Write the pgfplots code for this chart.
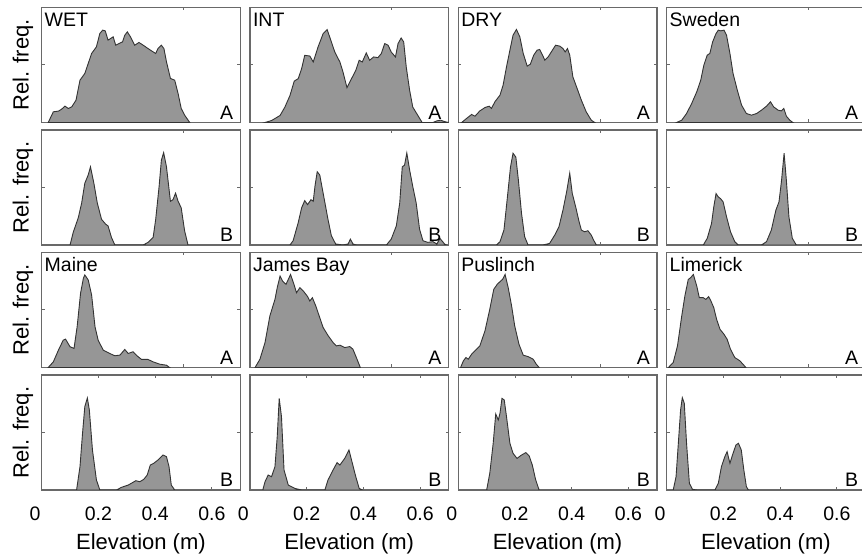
\documentclass[border=0pt]{standalone}
\usepackage{fontspec}
\setmainfont{Liberation Sans}
\usepackage{pgfplots}
\pgfplotsset{compat=1.18}
\definecolor{fillg}{RGB}{150,150,150}
\definecolor{frameg}{RGB}{105,105,105}
\newcommand{\lab}{\fontsize{9.75}{11}\selectfont}
\newcommand{\biglab}{\fontsize{11}{13}\selectfont}
\pgfplotsset{
  panel/.style={scale only axis, width=99.25pt, height=57.5pt,
    xmin=0, xmax=0.7, ymin=0, ymax=1, ytick={0.5}, yticklabels={},
    tick align=inside, major tick length=1.5pt,
    axis line style={draw=frameg, line width=0.7pt},
    every tick/.style={draw=frameg, line width=0.5pt},
    anchor=north west},
  upper/.style={xtick={0.5}, xticklabels={}},
  lower/.style={xtick={0,0.2,0.4,0.6},
    xticklabels={{\makebox[0pt][r]{0\kern0.6pt}},0.2,0.4,0.6},
    xticklabel style={font=\lab, yshift=-5pt}},
  areaplot/.style={fill=fillg, draw=black!80, line width=0.45pt},
}
\newcommand{\pan}[6]{%
\begin{axis}[panel,#3,at={(#1,#2)}]
\addplot[areaplot] coordinates {#4} \closedcycle;
\node[anchor=base west,font=\lab,inner sep=0pt,xshift=1.3pt,yshift=-9.3pt] at (rel axis cs:0,1) {#5};
\node[anchor=base east,font=\lab,inner sep=0pt,xshift=-3.3pt,yshift=1.5pt] at (rel axis cs:1,0) {#6};
\end{axis}}
\begin{document}
\begin{tikzpicture}
% ---------- column 1 ----------
\pan{20.85pt}{-3.75pt}{upper}{(0.023,0)(0.041,0.093)(0.059,0.099)(0.070,0.115)(0.082,0.142)(0.094,0.122)(0.106,0.136)(0.121,0.194)(0.135,0.368)(0.152,0.426)(0.164,0.513)(0.176,0.6)(0.193,0.658)(0.205,0.774)(0.215,0.803)(0.224,0.797)(0.234,0.716)(0.243,0.730)(0.252,0.745)(0.261,0.672)(0.273,0.687)(0.285,0.701)(0.293,0.759)(0.302,0.788)(0.313,0.745)(0.328,0.672)(0.343,0.696)(0.358,0.672)(0.375,0.643)(0.393,0.614)(0.402,0.6)(0.410,0.643)(0.422,0.672)(0.431,0.643)(0.440,0.528)(0.454,0.383)(0.469,0.368)(0.481,0.252)(0.492,0.122)(0.504,0.064)(0.522,0)}{WET}{A}
\pan{20.85pt}{-65pt}{upper}{(0.100,0)(0.111,0.109)(0.129,0.237)(0.141,0.366)(0.152,0.537)(0.164,0.609)(0.172,0.68)(0.184,0.537)(0.196,0.366)(0.211,0.223)(0.226,0.18)(0.234,0.166)(0.246,0.066)(0.258,0)(0.358,0)(0.375,0.023)(0.393,0.066)(0.402,0.223)(0.414,0.509)(0.422,0.737)(0.430,0.803)(0.440,0.68)(0.454,0.38)(0.463,0.394)(0.472,0.451)(0.481,0.38)(0.492,0.323)(0.504,0.123)(0.516,0)}{}{B}
\pan{20.85pt}{-126.25pt}{upper}{(0.023,0)(0.041,0.049)(0.059,0.151)(0.076,0.238)(0.084,0.247)(0.1,0.18)(0.114,0.166)(0.125,0.355)(0.137,0.645)(0.147,0.776)(0.152,0.805)(0.164,0.762)(0.176,0.631)(0.188,0.355)(0.199,0.238)(0.217,0.151)(0.240,0.122)(0.258,0.102)(0.276,0.108)(0.293,0.157)(0.305,0.122)(0.322,0.137)(0.336,0.102)(0.352,0.070)(0.375,0.07)(0.393,0.049)(0.416,0.029)(0.440,0.02)(0.451,0)}{Maine}{A}
\pan{20.85pt}{-187.5pt}{lower}{(0.123,0)(0.135,0.203)(0.144,0.493)(0.152,0.725)(0.161,0.80)(0.168,0.696)(0.179,0.348)(0.193,0.087)(0.205,0)(0.264,0)(0.281,0.023)(0.305,0.043)(0.332,0.081)(0.346,0.072)(0.360,0.093)(0.372,0.13)(0.383,0.217)(0.395,0.232)(0.410,0.261)(0.428,0.304)(0.440,0.29)(0.449,0.203)(0.457,0.043)(0.469,0)}{}{B}
% ---------- column 2 ----------
\pan{125pt}{-3.75pt}{upper}{(0.053,0)(0.076,0.017)(0.106,0.061)(0.123,0.134)(0.141,0.235)(0.156,0.36)(0.170,0.381)(0.182,0.468)(0.193,0.584)(0.211,0.578)(0.223,0.526)(0.240,0.657)(0.258,0.773)(0.272,0.808)(0.281,0.744)(0.299,0.613)(0.317,0.526)(0.328,0.439)(0.342,0.302)(0.358,0.381)(0.373,0.453)(0.385,0.541)(0.396,0.526)(0.410,0.605)(0.422,0.541)(0.436,0.57)(0.451,0.564)(0.463,0.599)(0.475,0.686)(0.487,0.672)(0.498,0.613)(0.513,0.57)(0.522,0.686)(0.533,0.735)(0.542,0.70)(0.551,0.483)(0.563,0.279)(0.574,0.134)(0.592,0.061)(0.607,0)(0.645,0)(0.660,0.015)(0.672,0.02)(0.686,0.008)(0.70,0)}{INT}{A}
\pan{125pt}{-65pt}{upper}{(0.141,0)(0.152,0.037)(0.170,0.194)(0.182,0.323)(0.193,0.386)(0.203,0.351)(0.215,0.394)(0.223,0.38)(0.229,0.509)(0.237,0.637)(0.246,0.609)(0.260,0.423)(0.275,0.223)(0.287,0.08)(0.302,0.009)(0.328,0)(0.346,0.009)(0.354,0.051)(0.363,0.009)(0.375,0)(0.481,0)(0.498,0.051)(0.516,0.166)(0.528,0.366)(0.537,0.68)(0.545,0.694)(0.553,0.80)(0.563,0.651)(0.574,0.509)(0.586,0.366)(0.598,0.137)(0.610,0.037)(0.627,0.023)(0.645,0.029)(0.659,0.009)(0.670,0.057)(0.686,0.009)(0.692,0)}{}{B}
\pan{125pt}{-126.25pt}{upper}{(0.018,0)(0.035,0.072)(0.053,0.217)(0.070,0.448)(0.088,0.592)(0.096,0.694)(0.106,0.795)(0.115,0.751)(0.127,0.723)(0.135,0.766)(0.143,0.809)(0.155,0.723)(0.164,0.65)(0.176,0.694)(0.188,0.665)(0.202,0.621)(0.211,0.578)(0.220,0.607)(0.232,0.535)(0.244,0.448)(0.258,0.347)(0.276,0.275)(0.293,0.217)(0.305,0.188)(0.317,0.194)(0.334,0.173)(0.352,0.182)(0.363,0.159)(0.375,0.087)(0.389,0)}{James Bay}{A}
\pan{125pt}{-187.5pt}{lower}{(0.045,0)(0.053,0.072)(0.064,0.13)(0.076,0.116)(0.088,0.203)(0.096,0.464)(0.103,0.797)(0.111,0.638)(0.120,0.174)(0.135,0.043)(0.158,0.014)(0.182,0)(0.264,0)(0.275,0.087)(0.293,0.174)(0.307,0.238)(0.317,0.217)(0.334,0.275)(0.349,0.348)(0.361,0.232)(0.373,0.116)(0.385,0.014)(0.396,0)}{}{B}
% ---------- column 3 ----------
\pan{229.15pt}{-3.75pt}{upper}{(0.012,0)(0.029,0.035)(0.047,0.07)(0.059,0.055)(0.076,0.101)(0.094,0.13)(0.109,0.142)(0.117,0.122)(0.129,0.18)(0.147,0.238)(0.158,0.325)(0.170,0.484)(0.182,0.629)(0.193,0.759)(0.205,0.809)(0.217,0.745)(0.229,0.6)(0.243,0.49)(0.254,0.507)(0.266,0.586)(0.278,0.629)(0.287,0.635)(0.297,0.586)(0.305,0.542)(0.317,0.571)(0.328,0.614)(0.343,0.672)(0.358,0.664)(0.369,0.643)(0.377,0.614)(0.385,0.643)(0.393,0.586)(0.404,0.397)(0.419,0.296)(0.434,0.194)(0.451,0.093)(0.469,0.02)(0.481,0)}{DRY}{A}
\pan{229.15pt}{-65pt}{upper}{(0.135,0)(0.147,0.029)(0.161,0.130)(0.172,0.389)(0.184,0.677)(0.193,0.798)(0.203,0.764)(0.212,0.562)(0.223,0.274)(0.234,0.072)(0.246,0)(0.299,0)(0.322,0.014)(0.340,0.086)(0.355,0.159)(0.369,0.303)(0.383,0.476)(0.393,0.625)(0.402,0.447)(0.414,0.331)(0.426,0.202)(0.434,0.13)(0.445,0.115)(0.457,0.124)(0.469,0.086)(0.477,0.043)(0.487,0)}{}{B}
\pan{229.15pt}{-126.25pt}{upper}{(0.008,0)(0.018,0.058)(0.027,0.087)(0.035,0.072)(0.047,0.116)(0.064,0.159)(0.076,0.188)(0.094,0.318)(0.111,0.506)(0.125,0.679)(0.137,0.723)(0.149,0.751)(0.156,0.766)(0.165,0.809)(0.176,0.694)(0.188,0.535)(0.199,0.361)(0.214,0.202)(0.229,0.107)(0.246,0.095)(0.264,0.072)(0.275,0.029)(0.285,0)}{Puslinch}{A}
\pan{229.15pt}{-187.5pt}{lower}{(0.1,0)(0.111,0.145)(0.123,0.406)(0.132,0.661)(0.141,0.609)(0.147,0.667)(0.154,0.797)(0.162,0.783)(0.170,0.638)(0.182,0.406)(0.193,0.319)(0.207,0.275)(0.223,0.304)(0.238,0.325)(0.250,0.296)(0.261,0.217)(0.273,0.087)(0.285,0)}{}{B}
% ---------- column 4 ----------
\pan{333.35pt}{-3.75pt}{upper}{(0.035,0)(0.053,0.02)(0.070,0.078)(0.088,0.165)(0.106,0.267)(0.120,0.368)(0.131,0.499)(0.143,0.586)(0.152,0.6)(0.162,0.701)(0.174,0.774)(0.182,0.803)(0.191,0.797)(0.202,0.803)(0.211,0.759)(0.223,0.6)(0.234,0.426)(0.249,0.281)(0.264,0.151)(0.281,0.078)(0.299,0.064)(0.317,0.078)(0.334,0.107)(0.352,0.142)(0.366,0.180)(0.377,0.136)(0.393,0.107)(0.404,0.101)(0.413,0.122)(0.422,0.055)(0.434,0.02)(0.445,0)}{Sweden}{A}
\pan{333.35pt}{-65pt}{upper}{(0.129,0)(0.143,0.058)(0.158,0.187)(0.166,0.331)(0.174,0.447)(0.182,0.418)(0.190,0.403)(0.199,0.375)(0.211,0.245)(0.225,0.115)(0.240,0.029)(0.252,0)(0.334,0)(0.352,0.029)(0.369,0.13)(0.385,0.303)(0.396,0.375)(0.405,0.562)(0.414,0.798)(0.422,0.562)(0.431,0.245)(0.443,0.058)(0.457,0)}{}{B}
\pan{333.35pt}{-126.25pt}{upper}{(0.006,0)(0.023,0.043)(0.038,0.188)(0.053,0.448)(0.064,0.621)(0.076,0.766)(0.084,0.78)(0.094,0.809)(0.106,0.708)(0.115,0.607)(0.129,0.607)(0.138,0.592)(0.148,0.616)(0.156,0.578)(0.166,0.52)(0.176,0.419)(0.188,0.332)(0.202,0.289)(0.213,0.246)(0.225,0.159)(0.240,0.087)(0.258,0.058)(0.272,0.02)(0.279,0)}{Limerick}{A}
\pan{333.35pt}{-187.5pt}{lower}{(0.023,0)(0.033,0.116)(0.041,0.406)(0.049,0.696)(0.055,0.803)(0.062,0.754)(0.070,0.406)(0.080,0.058)(0.091,0.006)(0.106,0)(0.170,0)(0.182,0.058)(0.193,0.203)(0.205,0.29)(0.213,0.333)(0.223,0.232)(0.232,0.304)(0.244,0.391)(0.253,0.406)(0.263,0.348)(0.272,0.174)(0.281,0.029)(0.288,0)}{}{B}
% ---------- outer labels ----------
\foreach \yc in {-32.5,-93.75,-155,-216.25}
  \node[rotate=90,font=\biglab,inner sep=0pt] at (11.5pt,\yc pt) {Rel. freq.};
\foreach \xc in {20.85,125,229.15,333.35}
  \node[anchor=base,font=\biglab,inner sep=0pt] at (\xc pt+49.625pt,-274.65pt) {Elevation (m)};
\pgfresetboundingbox
\path[use as bounding box] (0pt,0pt) rectangle (431pt,-280pt);
\end{tikzpicture}
\end{document}
